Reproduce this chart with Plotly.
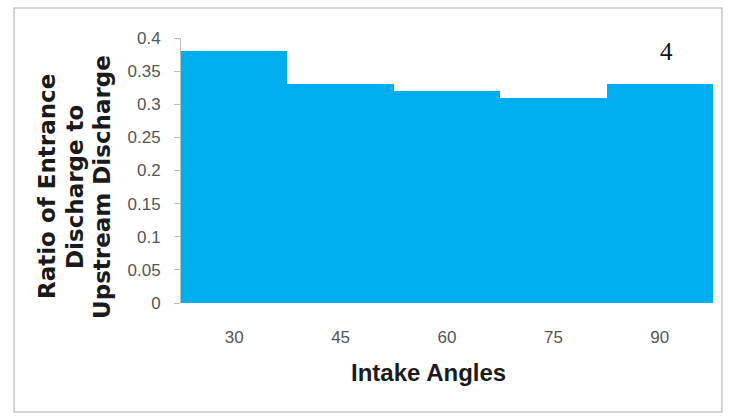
import plotly.graph_objects as go

angles = ["30", "45", "60", "75", "90"]
ratios = [0.38, 0.33, 0.32, 0.31, 0.33]
y_ticks = [0, 0.05, 0.1, 0.15, 0.2, 0.25, 0.3, 0.35, 0.4]
y_tick_text = ["0", "0.05", "0.1", "0.15", "0.2", "0.25", "0.3", "0.35", "0.4"]
y_title_lines = ["Ratio of Entrance", "Discharge to", "Upstream Discharge"]
x_title = "Intake Angles"
panel_label = "4"

fig = go.Figure(
    go.Bar(
        x=angles,
        y=ratios,
        marker=dict(color="#00AEEF", line=dict(width=0)),
        hoverinfo="x+y",
    )
)

L, R, T, B = 181, 16, 38, 117
W, H = 729, 420
pw, ph = W - L - R, H - T - B


def px_x(px):
    return (px - L) / pw


def px_y(py):
    return (H - B - py) / ph


tick_font = dict(size=17, color="#555555", family="Liberation Sans, Arial, sans-serif")
title_font = dict(size=23, color="#1a1a1a", family="DejaVu Sans, Arial, sans-serif")

annotations = []
# stacked, rotated y-axis title lines
for line, cx in zip(y_title_lines, [47, 75, 102]):
    annotations.append(
        dict(
            text=f"<b>{line}</b>",
            xref="paper",
            yref="paper",
            x=px_x(cx),
            y=px_y(187),
            xanchor="center",
            yanchor="middle",
            textangle=-90,
            showarrow=False,
            font=title_font,
        )
    )
# x-axis title
annotations.append(
    dict(
        text=f"<b>{x_title}</b>",
        xref="paper",
        yref="paper",
        x=px_x(428),
        y=px_y(372),
        xanchor="center",
        yanchor="middle",
        showarrow=False,
        font=dict(size=24, color="#1a1a1a", family="Liberation Sans, Arial, sans-serif"),
    )
)
# panel label
annotations.append(
    dict(
        text=panel_label,
        xref="paper",
        yref="paper",
        x=px_x(666),
        y=px_y(51),
        xanchor="center",
        yanchor="middle",
        showarrow=False,
        font=dict(size=25, color="#111111", family="Liberation Serif, Times New Roman, serif"),
    )
)

fig.update_layout(
    width=W,
    height=H,
    margin=dict(l=L, r=R, t=T, b=B),
    paper_bgcolor="white",
    plot_bgcolor="white",
    bargap=0,
    showlegend=False,
    xaxis=dict(
        type="category",
        showgrid=False,
        showline=False,
        ticks="",
        ticklabelstandoff=22,
        tickfont=tick_font,
    ),
    yaxis=dict(
        range=[0, 0.4],
        tickvals=y_ticks,
        ticktext=y_tick_text,
        showgrid=False,
        zeroline=False,
        showline=True,
        linecolor="#BBBBBB",
        linewidth=1,
        ticks="outside",
        ticklen=6,
        tickcolor="#BBBBBB",
        ticklabelstandoff=10,
        tickfont=tick_font,
    ),
    shapes=[
        dict(
            type="rect",
            xref="paper",
            yref="paper",
            x0=px_x(14),
            x1=px_x(722),
            y0=px_y(412),
            y1=px_y(8),
            line=dict(color="#C8C8C8", width=1.5),
            fillcolor="rgba(0,0,0,0)",
            layer="below",
        )
    ],
    annotations=annotations,
)

fig.write_html("out.html")
